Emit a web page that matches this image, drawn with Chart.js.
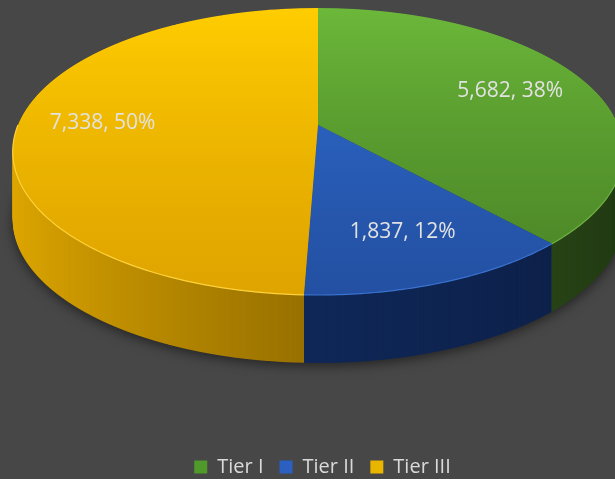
<!DOCTYPE html>
<html><head><meta charset="utf-8">
<script src="https://cdn.jsdelivr.net/npm/chart.js@4/dist/chart.umd.min.js"></script>
<style>html,body{margin:0;padding:0;background:#474747;} canvas{display:block}</style>
</head><body>
<canvas id="c" width="615" height="479"></canvas>
<script>
// ---- data ----
const categories = ['Tier I', 'Tier II', 'Tier III'];
const values = [5682, 1837, 7338];
const percentLabels = ['38%', '12%', '50%'];

// ---- styles ----
const legendColors = ['#4f9a2b', '#2b5fc2', '#e8b500'];
const topColors = [['#6cb83a', '#4a8426'], ['#3070d6', '#2350a2'], ['#ffcd00', '#dfa400']];
const rimColors = ['#6fb340', '#3a72d0', '#ffd23a'];
const sideColors = [['#4a7a2a', '#203812'], ['#12306a', '#0c1e44'], ['#e0a800', '#4a3500']];
// perspective view of the pie: centre (cx,cy), horizontal radius B, vertical A, tilt k, thickness depth
const PROJ = { cx: 318, cy: 125, B: 300, A: 138.6, k: -0.1847, depth: 68, labelR: 0.72 };

function fmt(v) { return String(v).replace(/\B(?=(\d{3})+(?!\d))/g, ','); }

function project(el, x, y) {
  const R = el.outerRadius;
  const u = (x - el.x) / R, v = (y - el.y) / R;
  const den = 1 + PROJ.k * v;
  return { x: PROJ.cx + PROJ.B * u / den, y: PROJ.cy + PROJ.A * v / den };
}
// local affine transform for a one-pixel horizontal strip centred at screen row Y
function stripTransform(ctx, el, Y) {
  const R = el.outerRadius;
  const d = Y - PROJ.cy;
  const v = d / (PROJ.A - PROJ.k * d);
  const den = 1 + PROJ.k * v;
  ctx.translate(PROJ.cx, Y);
  ctx.scale(PROJ.B / den / R, PROJ.A / (den * den) / R);
  ctx.translate(-el.x, -(el.y + v * R));
}
function withFill(el, fill) {
  const f = Object.create(el);
  f.options = Object.assign({}, el.options, { backgroundColor: fill, borderWidth: 0 });
  return f;
}
function drawFace(ctx, arcs, fills, W) {
  const y0 = Math.floor(PROJ.cy - PROJ.A / (1 - PROJ.k)) - 1;
  const y1 = Math.ceil(PROJ.cy + PROJ.A / (1 + PROJ.k)) + 1;
  for (let y = y0; y < y1; y++) {
    ctx.save();
    ctx.beginPath();
    ctx.rect(0, y, W, 1);
    ctx.clip();
    stripTransform(ctx, arcs[0], y + 0.5);
    arcs.forEach((el, i) => withFill(el, fills[i]).draw(ctx));
    ctx.restore();
  }
}

const pie3d = {
  id: 'pie3d',
  beforeDatasetDraw(chart, args) {
    const ctx = chart.ctx;
    const arcs = args.meta.data;
    if (!arcs.length) return false;
    const el0 = arcs[0];
    const R = el0.outerRadius;
    const W = chart.width, H = chart.height;

    // side: the face in side colours, extruded downwards
    const off = document.createElement('canvas');
    off.width = W; off.height = H;
    const octx = off.getContext('2d');
    const sideFills = arcs.map((el, i) => {
      const g = octx.createLinearGradient(el.x - R, 0, el.x + R, 0);
      g.addColorStop(0, sideColors[i][0]);
      g.addColorStop(1, sideColors[i][1]);
      return g;
    });
    drawFace(octx, arcs, sideFills, W);
    for (let k = PROJ.depth; k >= 1; k--) {
      ctx.save();
      if (k === PROJ.depth) {
        ctx.shadowColor = 'rgba(0,0,0,0.5)';
        ctx.shadowBlur = 12;
        ctx.shadowOffsetY = 3;
      }
      ctx.drawImage(off, 0, k);
      ctx.restore();
    }

    // top face
    const topFills = arcs.map((el, i) => {
      const g = ctx.createLinearGradient(0, el.y - R, 0, el.y + R);
      g.addColorStop(0, topColors[i][0]);
      g.addColorStop(1, topColors[i][1]);
      return g;
    });
    drawFace(ctx, arcs, topFills, W);

    // light rim along the front edge of the top face
    arcs.forEach((el, i) => {
      const a0 = Math.max(el.startAngle, 0), a1 = Math.min(el.endAngle, Math.PI);
      if (a1 <= a0) return;
      ctx.save();
      ctx.beginPath();
      const n = 60;
      for (let s = 0; s <= n; s++) {
        const a = a0 + (a1 - a0) * s / n;
        const p = project(el, el.x + Math.cos(a) * el.outerRadius, el.y + Math.sin(a) * el.outerRadius);
        if (s === 0) ctx.moveTo(p.x, p.y); else ctx.lineTo(p.x, p.y);
      }
      ctx.strokeStyle = rimColors[i];
      ctx.lineWidth = 1.2;
      ctx.stroke();
      ctx.restore();
    });
    return false;
  },
  afterDatasetsDraw(chart) {
    const ctx = chart.ctx;
    const meta = chart.getDatasetMeta(0);
    ctx.save();
    ctx.font = '21px "Open Sans"';
    ctx.fillStyle = '#e2e2e2';
    ctx.textAlign = 'center';
    ctx.textBaseline = 'middle';
    meta.data.forEach((el, i) => {
      const a = (el.startAngle + el.endAngle) / 2;
      const r = el.outerRadius * PROJ.labelR;
      const p = project(el, el.x + Math.cos(a) * r, el.y + Math.sin(a) * r);
      ctx.fillText(fmt(values[i]) + ', ' + percentLabels[i], p.x, p.y);
    });
    ctx.restore();
  }
};

new Chart(document.getElementById('c'), {
  type: 'pie',
  data: {
    labels: categories,
    datasets: [{ data: values, backgroundColor: legendColors, borderWidth: 0, clip: false }]
  },
  options: {
    responsive: false,
    animation: false,
    layout: { padding: { left: 30, bottom: -8 } },
    plugins: {
      tooltip: { enabled: false },
      legend: {
        position: 'bottom',
        labels: {
          color: '#d9d9d9',
          font: { family: 'Open Sans', size: 20 },
          boxWidth: 13, boxHeight: 13, padding: 16
        }
      }
    }
  },
  plugins: [pie3d]
});
</script>
</body></html>
